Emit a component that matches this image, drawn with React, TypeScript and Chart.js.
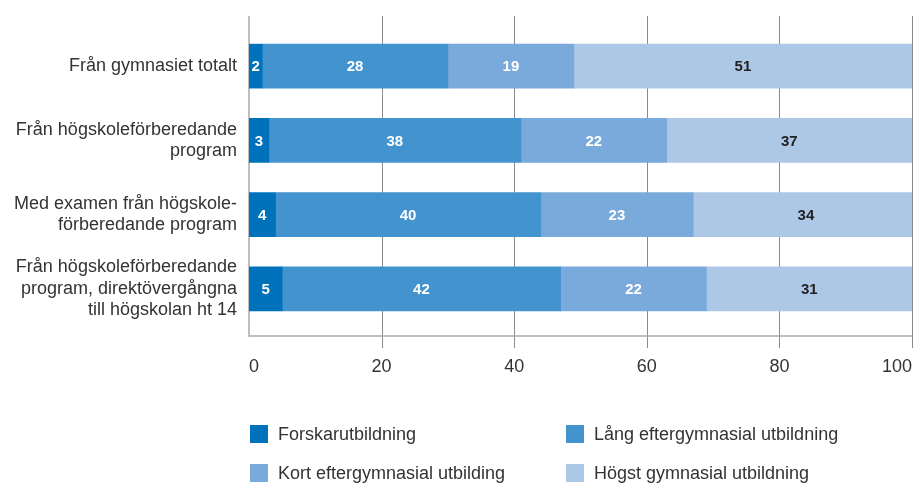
import React, { useEffect, useRef } from "react";
import { Chart, registerables } from "chart.js";

Chart.register(...registerables);

const categories: (string | string[])[] = [
  "Från gymnasiet totalt",
  ["Från högskoleförberedande", "program"],
  ["Med examen från högskole-", "förberedande program"],
  ["Från högskoleförberedande", "program, direktövergångna", "till högskolan ht 14"],
];

const seriesNames = [
  "Forskarutbildning",
  "Lång eftergymnasial utbildning",
  "Kort eftergymnasial utbilding",
  "Högst gymnasial utbildning",
];

const forskar = [2, 3, 4, 5];
const lang = [28, 38, 40, 42];
const kort = [19, 22, 23, 22];
const hogst = [51, 37, 34, 31];

const xTicks = [0, 20, 40, 60, 80, 100];

const colors = ["#0072BC", "#4393CF", "#7AA9DB", "#ADC8E6"];
const labelColors = ["#ffffff", "#ffffff", "#ffffff", "#222222"];

const FONT = "'Liberation Sans', Arial, sans-serif";

const zeroPad = (s: any) => {
  s.paddingTop = 0;
  s.paddingBottom = 0;
  s.paddingLeft = 0;
  s.paddingRight = 0;
};

const gridPlugin = {
  id: "extGrid",
  beforeDatasetsDraw(chart: any) {
    const { ctx, chartArea, scales } = chart;
    const xs = scales.x;
    const top = chartArea.top - 13;
    const bottom = chartArea.bottom + 10;
    ctx.save();
    ctx.strokeStyle = "#8a8a8a";
    ctx.lineWidth = 1;
    xTicks.forEach((v) => {
      if (v === 0) return;
      const px = Math.round(xs.getPixelForValue(v)) + 0.5;
      ctx.beginPath();
      ctx.moveTo(px, top);
      ctx.lineTo(px, bottom + 12);
      ctx.stroke();
    });
    ctx.strokeStyle = "#aaaaaa";
    ctx.lineWidth = 1.5;
    const x0 = xs.getPixelForValue(0);
    ctx.beginPath();
    ctx.moveTo(x0, top);
    ctx.lineTo(x0, bottom);
    ctx.lineTo(xs.getPixelForValue(100), bottom);
    ctx.stroke();
    ctx.restore();
  },
};

const valueLabelPlugin = {
  id: "valueLabels",
  afterDatasetsDraw(chart: any) {
    const { ctx } = chart;
    ctx.save();
    ctx.font = `bold 15px ${FONT}`;
    ctx.textAlign = "center";
    ctx.textBaseline = "middle";
    chart.data.datasets.forEach((ds: any, di: number) => {
      const meta = chart.getDatasetMeta(di);
      meta.data.forEach((bar: any, i: number) => {
        const v = ds.data[i];
        const cx = (bar.x + bar.base) / 2;
        ctx.fillStyle = labelColors[di];
        ctx.fillText(String(v), cx, bar.y + 1);
      });
    });
    ctx.restore();
  },
};

function Legend() {
  const item = (i: number, left: number, top: number) => (
    <div
      key={i}
      style={{
        position: "absolute",
        left,
        top,
        display: "flex",
        alignItems: "center",
        height: 18,
        fontFamily: FONT,
        fontSize: 18,
        color: "#333",
        whiteSpace: "nowrap",
      }}
    >
      <span
        style={{
          display: "inline-block",
          width: 18,
          height: 18,
          background: colors[i],
          marginRight: 10,
        }}
      />
      {seriesNames[i]}
    </div>
  );
  return (
    <>
      {item(0, 250, 425)}
      {item(1, 566, 425)}
      {item(2, 250, 464)}
      {item(3, 566, 464)}
    </>
  );
}

export default function App() {
  const ref = useRef<HTMLCanvasElement | null>(null);
  useEffect(() => {
    if (!ref.current) return;
    const values = [forskar, lang, kort, hogst];
    const chart = new Chart(ref.current, {
      type: "bar",
      data: {
        labels: categories,
        datasets: values.map((d, i) => ({
          label: seriesNames[i],
          data: d,
          backgroundColor: colors[i],
          borderWidth: 0,
          barThickness: 44,
        })),
      },
      options: {
        indexAxis: "y",
        animation: false,
        responsive: false,
        maintainAspectRatio: false,
        layout: { padding: { top: 29, right: 2, left: 0, bottom: 0 } },
        plugins: {
          legend: { display: false },
          tooltip: { enabled: false },
        },
        scales: {
          x: {
            stacked: true,
            min: 0,
            max: 100,
            grid: { display: false, drawTicks: false },
            border: { display: false },
            ticks: {
              stepSize: 20,
              align: "inner",
              padding: 30,
              color: "#333",
              font: { family: FONT, size: 18 },
              maxRotation: 0,
            },
            afterFit: (s: any) => {
              s.height = 158;
              zeroPad(s);
            },
          },
          y: {
            stacked: true,
            grid: { display: false, drawTicks: false },
            border: { display: false },
            ticks: {
              padding: 12,
              color: "#333",
              font: { family: FONT, size: 18, lineHeight: 1.2 },
            },
            afterFit: (s: any) => {
              s.width = 249;
              zeroPad(s);
            },
          },
        },
      },
      plugins: [gridPlugin, valueLabelPlugin],
    } as any);
    return () => chart.destroy();
  }, []);
  return (
    <div
      style={{
        position: "fixed",
        left: 0,
        top: 0,
        width: 914,
        height: 484,
        overflow: "hidden",
        background: "#fff",
      }}
    >
      <canvas ref={ref} width={914} height={484} style={{ display: "block" }} />
      <Legend />
    </div>
  );
}
